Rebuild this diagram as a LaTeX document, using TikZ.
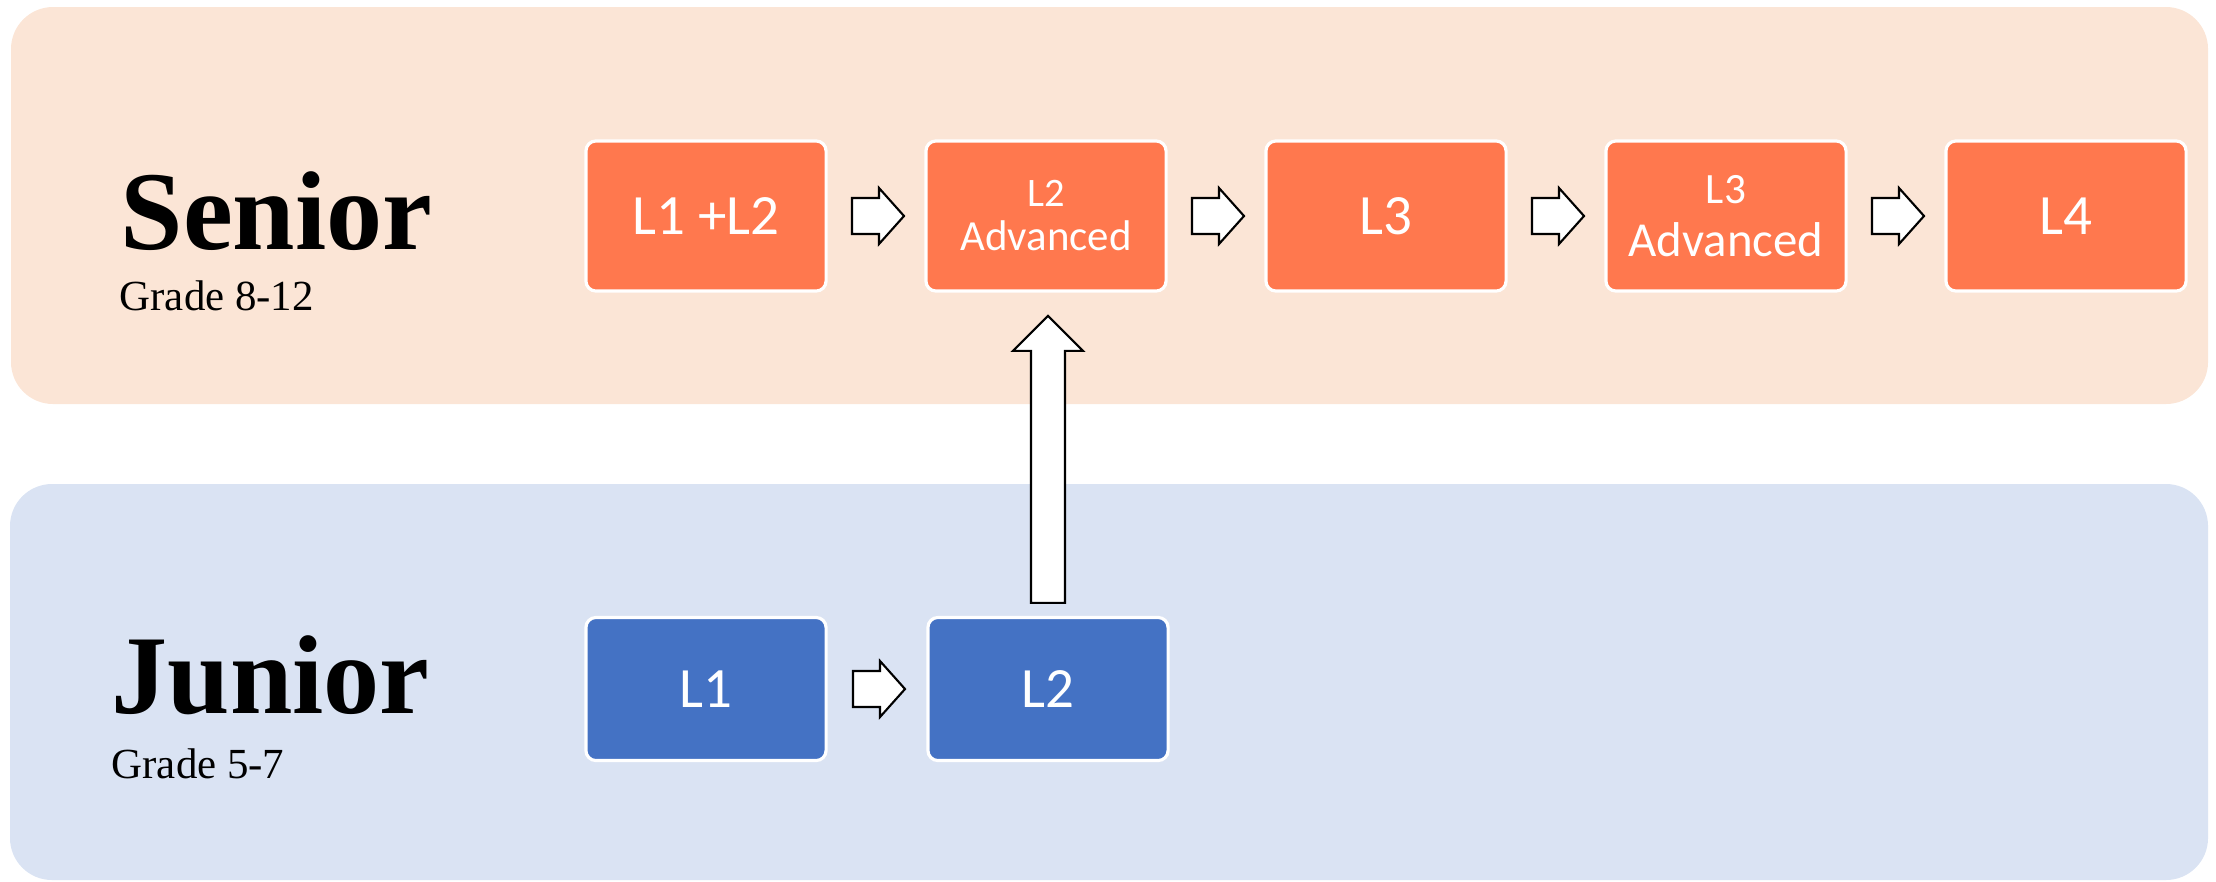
\documentclass[tikz,border=0pt]{standalone}
\usepackage{fontspec}
\setmainfont{Liberation Serif}
\newfontfamily\lvlfont{Carlito}
\usetikzlibrary{calc}
\definecolor{seniorbg}{HTML}{FBE5D6}
\definecolor{juniorbg}{HTML}{DAE3F3}
\definecolor{seniorbox}{HTML}{FF784E}
\definecolor{juniorbox}{HTML}{4472C4}
\tikzset{
	lvlbox/.style={draw=white, line width=0.9pt, rounded corners=0.1cm, minimum width=2.4cm, minimum height=1.5cm, text=white, align=center, font=\lvlfont\fontsize{16.2}{18}\selectfont},
	arrowshape/.style={draw=black, fill=white, line width=0.6pt, line join=miter},
	bandname/.style={anchor=base west, inner sep=0pt, font=\bfseries\fontsize{31.9}{36}\selectfont},
	gradename/.style={anchor=base west, inner sep=0pt, font=\fontsize{12.2}{14}\selectfont}
}
\def\blockarrow(#1)(#2){\draw[arrowshape] ($(#1.east)!0.5!(#2.west)+(-24,-18)$) -- ++(27,0) -- ++(0,-10) -- ++(25,28) -- ++(-25,28) -- ++(0,-10) -- ++(-27,0) -- cycle;}

\begin{document}
\begin{tikzpicture}[x=0.01cm, y=-0.01cm]
				\useasboundingbox (0,0) rectangle (2216,881);
				
				\fill[seniorbg, rounded corners=0.42cm] (11,7) rectangle (2208,404);
				\fill[juniorbg, rounded corners=0.42cm] (10,484) rectangle (2208,880);
				
				\node[bandname] (senior) at (120,249) {Senior};
				\node[gradename] (seniorgrade) at (119,310) {Grade 8-12};
				\node[bandname] (junior) at (111,713) {Junior};
				\node[gradename] (juniorgrade) at (111,778) {Grade 5-7};
				
				\node[lvlbox, fill=seniorbox] (s1) at (706,216) {L1 +L2};
				\node[lvlbox, fill=seniorbox] (s2) at (1046,216) {{\fontsize{11.5}{12}\selectfont L2}\\[-5.5pt]{\fontsize{12.2}{13}\selectfont Advanced}};
				\node[lvlbox, fill=seniorbox] (s3) at (1386,216) {L3};
				\node[lvlbox, fill=seniorbox] (s4) at (1726,216) {{\fontsize{12.3}{13}\selectfont L3}\\[-3pt]{\fontsize{13.9}{15}\selectfont Advanced}};
				\node[lvlbox, fill=seniorbox] (s5) at (2066,216) {L4};
				
				\node[lvlbox, fill=juniorbox, minimum height=1.43cm] (j1) at (706,689) {L1};
				\node[lvlbox, fill=juniorbox, minimum height=1.43cm] (j2) at (1048,689) {L2};
				
				\blockarrow(s1)(s2)
				\blockarrow(s2)(s3)
				\blockarrow(s3)(s4)
				\blockarrow(s4)(s5)
				\blockarrow(j1)(j2)
				
				\draw[arrowshape] ($(j2.north)+(-17,-13)$) -- ++(0,-252) -- ++(-18,0) -- ++(35,-35) -- ++(35,35) -- ++(-18,0) -- ++(0,252) -- cycle;
			\end{tikzpicture}
\end{document}
